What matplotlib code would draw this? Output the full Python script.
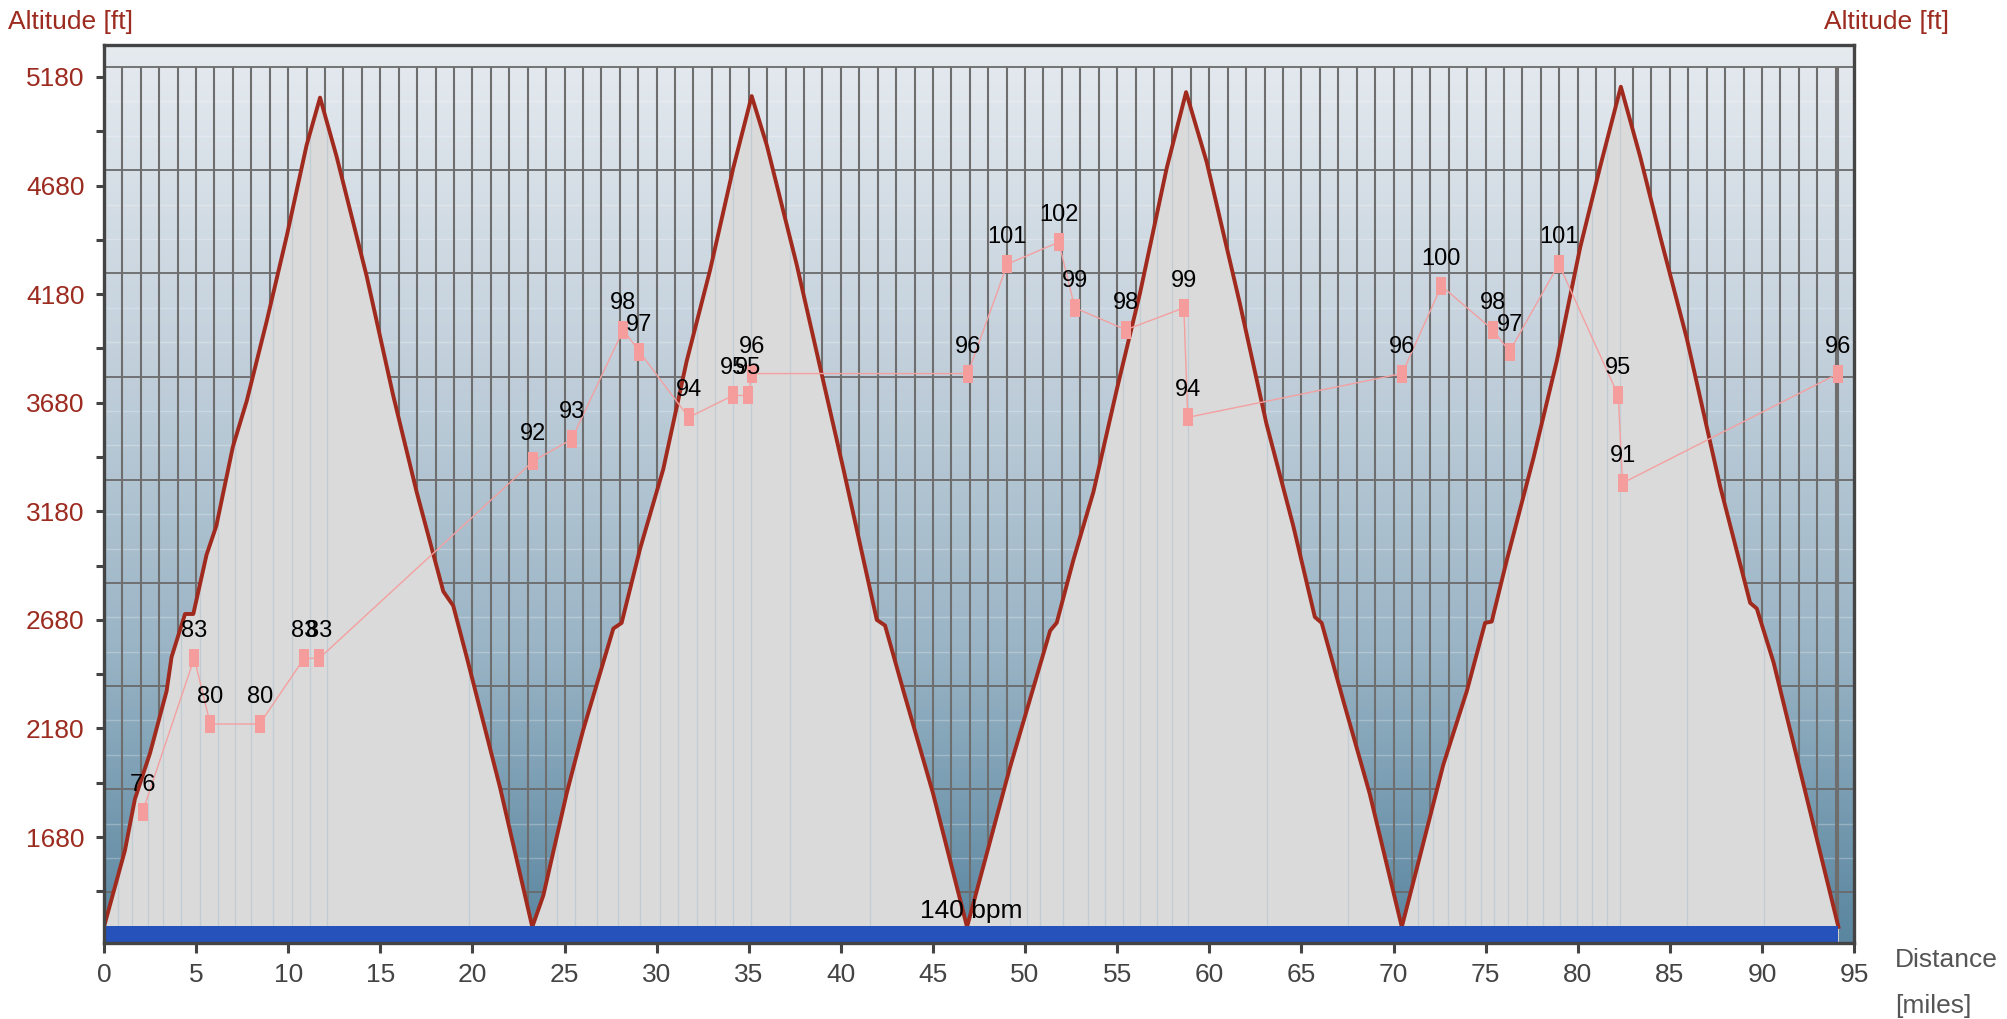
import numpy as np
import matplotlib
matplotlib.use("Agg")
import matplotlib.pyplot as plt
from matplotlib.colors import LinearSegmentedColormap

plt.rcParams['font.family'] = ['Liberation Sans', 'DejaVu Sans']

# altitude profile (miles, ft)
dist = [0.0, 1.14, 1.68, 2.5, 3.4, 3.67, 4.4, 4.85, 5.57, 6.1, 7.0, 7.75, 8.83, 9.92, 11.0, 11.73,
        12.63, 14.26, 15.7, 16.97, 18.42, 18.96, 19.69, 21.5, 23.25,
        23.85, 25.12, 26.0, 27.65, 28.1, 29.1, 30.36, 31.63, 32.9, 34.16, 35.16,
        35.98, 37.6, 38.87, 40.14, 41.95, 42.4, 43.4, 45.0, 46.85,
        49.18, 51.36, 51.72, 52.62, 53.71, 54.98, 56.24, 57.69, 58.74,
        59.86, 61.67, 63.1, 64.56, 65.73, 66.1, 67.3, 68.7, 70.45,
        71.44, 72.7, 73.98, 74.97, 75.33, 76.15, 77.6, 78.86, 80.13, 81.2, 82.34,
        83.39, 84.47, 85.92, 87.73, 89.36, 89.72, 90.63, 92.07, 94.15]
alt = [1266, 1619, 1855, 2066, 2352, 2509, 2707, 2707, 2980, 3113, 3478, 3688, 4054, 4447, 4866, 5085,
       4813, 4263, 3713, 3270, 2811, 2745, 2509, 1908, 1266,
       1411, 1882, 2169, 2640, 2666, 3007, 3374, 3871, 4290, 4761, 5092,
       4866, 4317, 3845, 3374, 2680, 2654, 2352, 1882, 1266,
       2000, 2630, 2667, 2955, 3269, 3741, 4185, 4761, 5110,
       4788, 4133, 3584, 3112, 2693, 2666, 2300, 1882, 1266,
       1593, 2012, 2352, 2666, 2672, 2955, 3426, 3871, 4394, 4761, 5135,
       4813, 4447, 3976, 3295, 2758, 2732, 2484, 1986, 1266]

# heart rate points
hr_dist = [2.1, 4.9, 5.77, 8.45, 10.87, 11.69, 23.3, 25.39, 28.19, 29.06, 31.74, 34.15, 34.98, 35.16,
           46.89, 49.04, 51.83, 52.7, 55.47, 58.62, 58.83, 70.47, 72.6, 75.39, 76.3, 78.97, 82.2, 82.43, 94.14]
hr = [76, 83, 80, 80, 83, 83, 92, 93, 98, 97, 94, 95, 95, 96,
      96, 101, 102, 99, 98, 99, 94, 96, 100, 98, 97, 101, 95, 91, 96]

# lap split markers (miles)
laps = [0.76, 1.53, 2.37, 3.2, 4.17, 5.2, 6.2, 7.1, 8.0, 9.2, 10.2, 11.2, 12.1, 19.8,
        24.57, 25.57, 26.75, 27.92, 29.1, 30.18, 31.18, 32.2, 33.17, 34.13, 35.1, 37.24, 41.6,
        49.18, 50.1, 50.8, 52.08, 53.44, 54.34, 55.34, 56.24, 57.15, 57.96, 58.83, 63.12, 67.55,
        71.35, 72.13, 72.98, 73.89, 74.74, 75.46, 76.24, 77.24, 78.14, 79.05, 79.95, 80.76,
        81.58, 82.3, 85.92, 90.13]

zone_label = "140 bpm"
zone_x = 47.1

ymin, ymax = 1192, 5327
bar_top = 1270
red = '#9c2b20'
grey = '#444444'

fig = plt.figure(figsize=(20.07, 10.19), dpi=100)
ax = fig.add_axes([0.0518, 0.0746, 0.872, 0.8812])
ax.set_xlim(0, 95)
ax.set_ylim(ymin, ymax)

# background gradient (light at top, steel blue at bottom)
cmap = LinearSegmentedColormap.from_list('bg', ['#e5eaef', '#c4d1dc', '#9bb5c6', '#5a86a0'])
grad = np.linspace(0, 1, 256).reshape(-1, 1)
ax.imshow(grad, cmap=cmap, aspect='auto', extent=[0, 1, 0, 1], transform=ax.transAxes,
          zorder=0, interpolation='bicubic')

# grid
grid_top = 0.9755
major_y = grid_top - np.arange(9) * 0.1149
ax.hlines(major_y, 0, 1, transform=ax.transAxes, color='#6a6a6a', lw=1.3, zorder=1)
minor_y = np.concatenate([major_y[1:] + 0.1149 / 3, major_y[1:] + 0.1149 * 2 / 3])
ax.hlines(minor_y, 0, 1, transform=ax.transAxes, color='white', lw=1.0, alpha=0.25, zorder=1)
ax.vlines(np.append(np.arange(1, 95), dist[-1]), 0, grid_top, transform=ax.get_xaxis_transform(),
          color='#6e6e6e', lw=1.5, zorder=1)

# profile
fill = ax.fill_between(dist, alt, ymin, color='#dadada', zorder=2, lw=0)
lap_lines = ax.vlines(laps, ymin, ymax, color='#c2ccd4', lw=1.0, zorder=2.5)
lap_lines.set_clip_path(fill.get_paths()[0], ax.transData)
ax.plot(dist, alt, color='#a02a1e', lw=2.8, zorder=3)

# heart rate zone bar
ax.fill_between([0, dist[-1]], ymin, bar_top, color='#2553bb', lw=0, zorder=3.5)
ax.text(zone_x, bar_top + 12, zone_label, ha='center', va='bottom', fontsize=19, color='black', zorder=6)

# ticks
ax.set_xticks(np.arange(0, 96, 5))
ax.set_yticks(np.arange(1680, 5181, 500))
ax.set_yticks(np.arange(1430, 5181, 500), minor=True)
ax.tick_params(axis='x', length=7.5, width=2.2, color=grey, labelcolor=grey, labelsize=19, pad=7)
ax.tick_params(axis='y', which='both', length=6, width=2.2, color=grey, labelcolor=red,
               labelsize=19, pad=8, right=True, labelright=True)
for s in ax.spines.values():
    s.set_color(grey)
    s.set_linewidth(2.4)
    s.set_zorder(7)

# heart rate on hidden axis
ax2 = ax.twinx()
ax2.set_ylim(70, 111)
ax2.set_yticks([])
for s in ax2.spines.values():
    s.set_visible(False)
marker = [(-1, -2), (1, -2), (1, 2), (-1, 2), (-1, -2)]
ax2.plot(hr_dist, hr, color='#f4a0a0', lw=1.0, marker=marker, markersize=13,
         markerfacecolor='#f59d9d', markeredgewidth=0, zorder=4)
for x, v in zip(hr_dist, hr):
    ax2.annotate(str(v), (x, v), xytext=(0, 21), textcoords='offset pixels',
                 ha='center', va='baseline', fontsize=17, color='black', zorder=5)

fig.text(8 / 2007, 1 - 22 / 1019, 'Altitude [ft]', color=red, fontsize=19, va='center', ha='left')
fig.text(1949 / 2007, 1 - 22 / 1019, 'Altitude [ft]', color=red, fontsize=19, va='center', ha='right')
fig.text(1895 / 2007, 1 - 967 / 1019, 'Distance', color='#555555', fontsize=19, va='baseline')
fig.text(1895 / 2007, 1 - 1013 / 1019, '[miles]', color='#555555', fontsize=19, va='baseline')

fig.savefig('out.png', dpi=100)
